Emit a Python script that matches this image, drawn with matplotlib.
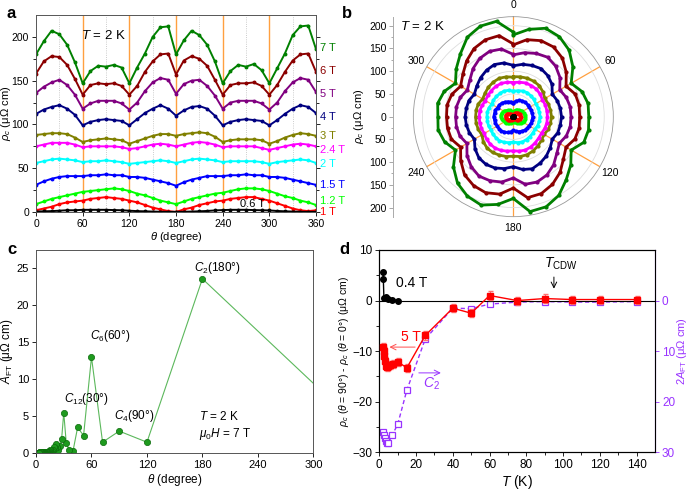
import numpy as np
import matplotlib
matplotlib.use("Agg")
import matplotlib.pyplot as plt

plt.rcParams['font.family'] = ['Liberation Sans', 'DejaVu Sans']
plt.rcParams['mathtext.fontset'] = 'custom'
plt.rcParams['mathtext.rm'] = 'Liberation Sans'
plt.rcParams['mathtext.it'] = 'Liberation Sans:italic'
plt.rcParams['mathtext.bf'] = 'Liberation Sans:bold'

# ---- panel a / b data: rho_c (uOhm cm) vs angle, every 10 degrees ----
theta = [0, 10, 20, 30, 40, 50, 60, 70, 80, 90, 100, 110, 120, 130, 140, 150, 160, 170, 180,
         190, 200, 210, 220, 230, 240, 250, 260, 270, 280, 290, 300, 310, 320, 330, 340, 350, 360]

rho_7T = [180, 195, 207, 203, 191, 171, 147, 161, 167, 166, 168, 165, 147, 165, 181, 200, 211, 212, 180,
          196, 207, 202, 191, 172, 147, 161, 168, 166, 169, 162, 147, 164, 181, 202, 212, 213, 186]
rho_6T = [158, 172, 178, 177, 168, 152, 134, 145, 147, 146, 147, 144, 134, 144, 160, 172, 180, 181, 157,
          173, 178, 175, 167, 151, 134, 145, 147, 147, 148, 144, 134, 145, 160, 173, 180, 181, 160]
rho_5T = [136, 143, 148, 151, 145, 134, 118, 124, 127, 127, 127, 124, 117, 125, 138, 148, 153, 151, 135,
          146, 150, 151, 144, 133, 118, 125, 127, 127, 127, 124, 117, 125, 138, 148, 153, 151, 137]
rho_4T = [112, 117, 120, 122, 118, 111, 99, 103, 105, 106, 105, 104, 99, 106, 113, 118, 122, 118, 110,
          116, 120, 121, 118, 110, 99, 103, 105, 106, 105, 104, 99, 105, 112, 118, 122, 120, 113]
rho_3T = [88, 89, 90, 90, 89, 85, 80, 82, 83, 84, 83, 82, 78, 81, 84, 87, 89, 89, 87,
          89, 90, 91, 90, 86, 80, 82, 83, 83, 83, 82, 78, 81, 85, 88, 90, 89, 87]
rho_24T = [75, 77, 79, 79, 79, 77, 74, 75, 75, 75, 75, 74, 72, 73, 75, 77, 78, 77, 75,
           77, 79, 80, 79, 77, 74, 75, 75, 75, 75, 73, 71, 73, 75, 77, 78, 77, 75]
rho_2T = [56, 58, 60, 61, 60, 59, 57, 58, 58, 59, 58, 57, 55, 56, 57, 58, 59, 58, 56,
          58, 60, 61, 60, 59, 57, 58, 58, 58, 58, 57, 55, 57, 58, 59, 60, 59, 56]
rho_15T = [31, 35, 38, 40, 41, 41, 41, 42, 42, 43, 42, 42, 40, 40, 39, 37, 35, 33, 30,
           34, 37, 39, 41, 41, 41, 42, 42, 43, 42, 42, 40, 40, 39, 37, 35, 33, 31]
rho_12T = [9, 12, 15, 17, 19, 21, 23, 24, 25, 26, 27, 26, 24, 21, 19, 16, 13, 11, 9,
           12, 15, 17, 19, 21, 22, 24, 26, 27, 27, 26, 24, 21, 18, 16, 13, 11, 8]
rho_1T = [2, 4, 6, 9, 11, 12, 13, 15, 16, 17, 16, 15, 13, 11, 8, 5, 3, 1, 0,
          3, 5, 8, 10, 12, 13, 15, 16, 17, 17, 15, 13, 10, 7, 4, 2, 1, 2]
rho_06T = [0.5, 0.8, 1, 1.5, 2, 2, 2.5, 2.5, 2.5, 2.5, 2.2, 2, 1.5, 1, 0.8, 0.5, 0.3, 0.2, 0.2,
           0.3, 0.5, 0.8, 1.2, 1.8, 2.2, 2.5, 2.5, 2.5, 2.2, 2, 1.8, 1.2, 0.8, 0.5, 0.3, 0.2, 0.3]

field_labels = ['7 T', '6 T', '5 T', '4 T', '3 T', '2.4 T', '2 T', '1.5 T', '1.2 T', '1 T', '0.6 T']
field_colors = ['#008000', '#8B0000', '#800080', '#000080', '#808000', '#FF00FF',
                '#00FFFF', '#0000FF', '#00FF00', '#FF0000', '#000000']
label_y = [187, 161, 135, 109, 87, 71, 55, 31, 13, 0.5, 9]

# ---- panel c data: Fourier amplitude vs period (360/n) ----
harmonic_n = list(range(1, 101))
A_FT = [2.4, 23.6, 1.5, 3.0, 1.5, 13.0, 2.4, 3.5, 0.3, 0.4,
        1.35, 5.5, 1.9, 1.0, 0.4, 0.9, 1.3, 0.7, 0.9, 0.5,
        0.3, 0.2, 0.4, 0.2, 0.3, 0.1, 0.2, 0.15, 0.1, 0.2,
        0.1, 0.15, 0.1, 0.1, 0.12, 0.08, 0.1, 0.1, 0.08, 0.1,
        0.12, 0.1, 0.08, 0.1, 0.1, 0.12, 0.08, 0.1, 0.1, 0.08,
        0.1, 0.1, 0.12, 0.08, 0.1, 0.1, 0.08, 0.1, 0.12, 0.1,
        0.08, 0.1, 0.1, 0.12, 0.08, 0.1, 0.1, 0.08, 0.1, 0.1,
        0.12, 0.08, 0.1, 0.1, 0.08, 0.1, 0.12, 0.1, 0.08, 0.1,
        0.1, 0.12, 0.08, 0.1, 0.1, 0.08, 0.1, 0.1, 0.12, 0.08,
        0.1, 0.1, 0.08, 0.1, 0.12, 0.1, 0.08, 0.1, 0.1, 0.1]

# ---- panel d data ----
T_04 = [2.0, 2.2, 2.5, 3.5, 5, 7, 10]
d_04 = [5.7, 4.2, 0.6, 0.7, 0.4, 0.2, 0.0]
T_5 = [2.0, 2.3, 2.6, 3.0, 3.5, 4, 5, 6, 7.5, 10, 15, 25, 40, 50, 60, 75, 90, 105, 120, 140]
d_5 = [-9.2, -10.0, -11.0, -12.0, -12.9, -13.2, -12.9, -12.7, -12.6, -12.1, -13.3, -6.9,
       -1.5, -2.5, 1.0, 0.0, 0.4, 0.2, 0.2, 0.2]
err_5 = 0.8
T_C2 = [2.0, 2.5, 3.0, 3.5, 4, 5, 7, 10, 15, 25, 40, 50, 60, 75, 90, 105, 120, 140]
A2_C2 = [26.0, 26.5, 27.2, 27.8, 28.2, 28.2, 26.6, 24.5, 17.7, 7.6, 1.5, 1.6, 0.7, 0.3,
         0.2, 0.3, 0.3, 0.2]

fig = plt.figure(figsize=(6.9, 4.92), dpi=100)

# ================= panel a =================
ax = fig.add_axes([0.0522, 0.5691, 0.4058, 0.4004])
curves = [rho_7T, rho_6T, rho_5T, rho_4T, rho_3T, rho_24T, rho_2T, rho_15T, rho_12T, rho_1T, rho_06T]
for x in [30, 90, 150, 210, 270, 330]:
    ax.axvline(x, color='#bbbbbb', lw=0.6, ls=':', zorder=0)
for x in [60, 120, 180, 240, 300]:
    ax.axvline(x, color='#FFA040', lw=1.0, zorder=1)
for rho, c in zip(curves, field_colors):
    ax.plot(theta, rho, color=c, lw=1.4, marker='o', ms=1.8, zorder=2)
for lab, c, y in zip(field_labels[:-1], field_colors[:-1], label_y[:-1]):
    ax.text(1.013, y, lab, color=c, fontsize=8, va='center', ha='left',
            transform=ax.get_yaxis_transform())
ax.text(278, label_y[-1], field_labels[-1], color='k', fontsize=8, ha='center', va='center')
ax.text(0.16, 0.93, r'$T$ = 2 K', transform=ax.transAxes, fontsize=9.5, va='top')
ax.set_xlim(0, 360)
ax.set_ylim(0, 225)
ax.set_xticks(np.arange(0, 361, 60))
ax.set_yticks([0, 50, 100, 150, 200])
ax.set_yticks(np.arange(25, 225, 50), minor=True)
ax.tick_params(labelsize=7.5, length=3, width=0.6, right=True, which='both', pad=2)
ax.tick_params(which='minor', length=2)
ax.set_xlabel(r'$\theta$ (degree)', fontsize=8, labelpad=1)
ax.set_ylabel(r'$\rho_c$ (μΩ cm)', fontsize=8)
ax.yaxis.set_label_coords(-0.083, 0.5)
for s in ax.spines.values():
    s.set_color('#555555')
    s.set_linewidth(0.7)

# ================= panel b =================
axr = fig.add_axes([0.570, 0.5596, 0.001, 0.4065])
axr.set_ylim(-220, 220)
axr.set_yticks([-200, -150, -100, -50, 0, 50, 100, 150, 200])
axr.set_yticklabels(['200', '150', '100', '50', '0', '50', '100', '150', '200'])
axr.set_yticks(np.arange(-200, 201, 25), minor=True)
axr.set_xticks([])
for k in ['top', 'right', 'bottom']:
    axr.spines[k].set_visible(False)
axr.spines['left'].set_color('#aaaaaa')
axr.spines['left'].set_linewidth(0.7)
axr.tick_params(labelsize=7.5, length=3, width=0.6, color='#999999', pad=2)
axr.tick_params(which='minor', length=1.8, color='#999999')
axr.set_ylabel(r'$\rho_c$ (μΩ cm)', fontsize=8, labelpad=2)
axr.patch.set_alpha(0)

axp = fig.add_axes([0.599, 0.5596, 0.2899, 0.4065], projection='polar')
axp.set_theta_zero_location('N')
axp.set_theta_direction(-1)
th_rad = np.deg2rad(theta)
for rho, c in zip(curves, field_colors):
    axp.plot(th_rad, rho, color=c, lw=2.0, marker='o', ms=2.0, zorder=3)
axp.set_ylim(0, 220)
axp.set_rgrids([50, 100, 150, 200], labels=[])
axp.set_thetagrids([0, 60, 120, 180, 240, 300], labels=['0', '60', '120', '180', '240', '300'],
                   fontsize=7.5)
axp.tick_params(axis='x', pad=-2)
axp.yaxis.grid(True, color='#dddddd', lw=0.6)
axp.xaxis.grid(True, color='#FFA040', lw=0.9)
axp.spines['polar'].set_color('#999999')
axp.spines['polar'].set_linewidth(0.6)
axp.set_axisbelow(True)
fig.text(0.580, 0.960, r'$T$ = 2 K', fontsize=9.5, va='top', ha='left')

# ================= panel c =================
axc = fig.add_axes([0.0522, 0.0787, 0.4019, 0.4132])
period = 360.0 / np.array(harmonic_n)
axc.plot(period, A_FT, color='#5cb85c', lw=0.8, marker='o', ms=4.5,
         mfc='#1e9a1e', mec='#0b6b0b', mew=0.5, clip_on=True)
axc.set_xlim(0, 300)
axc.set_ylim(0, 27.5)
axc.set_xticks(np.arange(0, 301, 60))
axc.set_yticks([0, 5, 10, 15, 20, 25])
axc.tick_params(labelsize=8, length=3, width=0.6, pad=2)
axc.set_xlabel(r'$\theta$ (degree)', fontsize=8.5, labelpad=1)
axc.set_ylabel(r'$A_{\rm FT}$ (μΩ cm)', fontsize=8.5)
axc.yaxis.set_label_coords(-0.075, 0.5)
axc.text(171, 25.1, r'$C_2$(180°)', fontsize=8.5, va='center')
axc.text(58, 15.9, r'$C_6$(60°)', fontsize=8.5, va='center')
axc.text(30, 7.3, r'$C_{12}$(30°)', fontsize=8.5, va='center')
axc.text(84, 5.0, r'$C_4$(90°)', fontsize=8.5, va='center')
axc.text(176, 5.0, r'$T$ = 2 K', fontsize=8.5, va='center')
axc.text(176, 2.6, r'$\mu_0H$ = 7 T', fontsize=8.5, va='center')
for s in axc.spines.values():
    s.set_color('#555555')
    s.set_linewidth(0.7)

# ================= panel d =================
axd = fig.add_axes([0.5497, 0.0807, 0.3996, 0.4112])
axd.axhline(0, color='k', lw=0.8, zorder=1)
axd.plot(T_04, d_04, color='k', lw=1.0, marker='o', ms=4, zorder=4)
axd.errorbar(T_5, d_5, yerr=err_5, color='#FF0000', lw=1.0, marker='s', ms=4,
             elinewidth=0.8, capsize=1.8, ecolor='#FF7070', zorder=3)
axd.set_xlim(0, 150)
axd.set_ylim(-30, 10)
axd.set_xticks(np.arange(0, 141, 20))
axd.set_yticks([-30, -20, -10, 0, 10])
axd.set_yticks(np.arange(-25, 10, 10), minor=True)
axd.set_xticks(np.arange(10, 150, 20), minor=True)
axd.tick_params(labelsize=8.5, length=3, width=0.6, pad=2)
axd.tick_params(which='minor', length=2)
axd.set_xlabel(r'$T$ (K)', fontsize=10, labelpad=1)
axd.set_ylabel(r'$\rho_c$ ($\theta$ = 90°) - $\rho_c$ ($\theta$ = 0°) (μΩ cm)', fontsize=7.5, labelpad=1)

axd2 = axd.twinx()
axd2.plot(T_C2, A2_C2, color='#9933FF', lw=1.0, ls=(0, (3, 2)), marker='s', ms=4,
          mfc='white', mec='#9933FF', mew=0.9, zorder=2)
axd2.set_ylim(30, -10)
axd2.set_yticks([0, 10, 20, 30])
axd2.tick_params(labelsize=8.5, length=3, width=0.6, colors='#9933FF', pad=2)
axd2.set_ylabel(r'2$A_{\rm FT}$ (μΩ cm)', fontsize=8, color='#9933FF')
axd2.yaxis.set_label_coords(1.072, 0.5)
axd2.spines['right'].set_color('#9933FF')
axd.set_zorder(axd2.get_zorder() + 1)
axd.patch.set_visible(False)

axd.text(9, 3.5, '0.4 T', fontsize=10, va='center')
axd.text(12, -7.3, '5 T', fontsize=10, color='#FF0000', va='center')
axd.annotate('', xy=(4, -9.2), xytext=(21, -9.2),
             arrowprops=dict(arrowstyle='->', color='#FF5050', lw=0.7))
axd.text(24, -16.5, r'$C_2$', fontsize=10, color='#9933FF', va='center')
axd.annotate('', xy=(35, -14.3), xytext=(20, -14.3),
             arrowprops=dict(arrowstyle='->', color='#9933FF', lw=0.7))
axd.text(99, 7.3, r'$T_{\rm CDW}$', fontsize=10, ha='center', va='center')
axd.annotate('', xy=(95, 1.8), xytext=(95, 5.2),
             arrowprops=dict(arrowstyle='->', color='k', lw=0.7))

# panel letters
fig.text(0.010, 0.988, 'a', fontsize=12, fontweight='bold', va='top')
fig.text(0.496, 0.988, 'b', fontsize=12, fontweight='bold', va='top')
fig.text(0.010, 0.508, 'c', fontsize=12, fontweight='bold', va='top')
fig.text(0.492, 0.508, 'd', fontsize=12, fontweight='bold', va='top')

fig.savefig('out.png', dpi=100)
